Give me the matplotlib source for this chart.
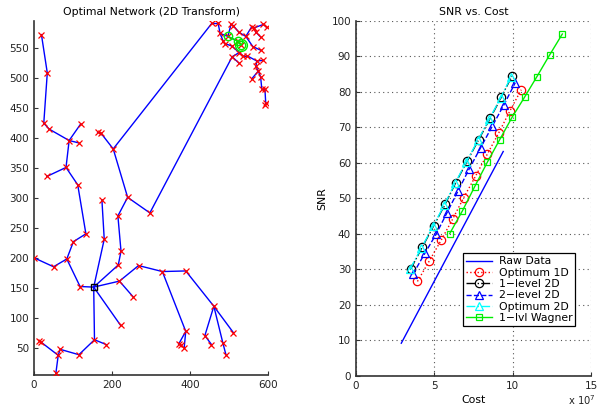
import numpy as np
import matplotlib
matplotlib.use('Agg')
import matplotlib.pyplot as plt

plt.rcParams.update({
    'font.family': 'DejaVu Sans', 'font.size': 7.5,
    'xtick.direction': 'in', 'ytick.direction': 'in',
})

# ── left panel: network nodes (x, y) and edges ───────────────────────────────
node_x = [153, 118, 84, 50, 0, 101, 133, 112, 82, 33, 90, 120, 115, 39, 25, 34, 19,
          180, 174, 216, 223, 215, 240, 297, 203, 163, 172, 219, 255, 268, 329, 389,
          389, 371, 377, 385, 461, 438, 455, 484, 492, 511, 222, 155, 185, 115, 67,
          62, 56, 14, 18,
          456, 472, 477, 485, 489, 497, 505, 511, 525, 543, 522, 531, 558, 563, 588,
          597, 569, 581, 561, 581, 507, 526, 535, 545, 571, 508, 526, 588, 569, 575,
          558, 581, 584, 592, 594, 592]
node_y = [151, 152, 198, 185, 200, 227, 240, 322, 351, 336, 396, 424, 392, 415, 425, 509, 573,
          231, 297, 188, 211, 270, 301, 275, 382, 410, 408, 161, 134, 187, 177, 178,
          77, 56, 54, 50, 119, 70, 55, 58, 38, 75, 87, 63, 55, 38, 47,
          37, 7, 61, 59,
          592, 592, 575, 562, 558, 570, 590, 588, 577, 570, 562, 556, 586, 584, 590,
          585, 577, 569, 553, 547, 554, 543, 538, 538, 529, 536, 525, 530, 520, 512,
          499, 502, 482, 482, 459, 455]
edges = [(0, 1), (1, 2), (2, 3), (3, 4), (2, 5), (5, 6), (6, 7), (7, 8), (8, 9), (8, 10),
         (10, 11), (10, 12), (10, 13), (13, 14), (14, 15), (15, 16),
         (0, 17), (17, 18), (0, 19), (19, 20), (20, 21), (21, 22), (22, 24), (24, 26),
         (26, 25), (22, 23), (23, 76), (24, 51),
         (0, 27), (27, 28), (27, 29), (29, 30), (30, 31), (30, 32), (32, 33), (32, 35),
         (33, 34), (31, 36), (36, 37), (37, 38), (36, 39), (39, 40), (36, 41),
         (0, 42), (0, 43), (43, 44), (43, 45), (45, 46), (46, 47), (47, 48), (47, 50),
         (50, 49),
         (51, 52), (52, 53), (53, 54), (54, 55), (53, 56), (56, 57), (57, 58), (58, 59),
         (59, 60), (56, 61), (61, 62), (60, 63), (63, 64), (64, 65), (65, 66), (64, 67),
         (67, 68), (60, 69), (69, 70), (55, 71), (71, 72), (72, 73), (73, 74), (74, 75),
         (76, 72), (76, 77), (75, 78), (75, 79), (79, 80), (80, 81), (80, 82), (82, 83),
         (83, 84), (84, 85), (85, 86)]
root = 0
green_nodes = [56, 61, 62]

# ── right panel: SNR vs cost (cost in units of 1e7) ──────────────────────────
raw_cost = [2.9, 9.4]
raw_snr = [9.2, 63.2]
opt1d_cost = [3.93, 4.69, 5.44, 6.18, 6.88, 7.64, 8.39, 9.11, 9.81, 10.55]
opt1d_snr = [26.6, 32.4, 38.2, 44.2, 50.2, 56.3, 62.5, 68.4, 74.5, 80.6]
lvl1_cost = [3.50, 4.23, 4.97, 5.69, 6.37, 7.09, 7.83, 8.56, 9.28, 9.96]
lvl1_snr = [30.1, 36.2, 42.3, 48.3, 54.4, 60.4, 66.5, 72.5, 78.5, 84.5]
lvl2_cost = [3.65, 4.40, 5.12, 5.82, 6.52, 7.22, 7.96, 8.71, 9.45, 10.17]
lvl2_snr = [28.7, 34.5, 39.9, 46.0, 52.1, 58.2, 64.3, 70.4, 76.4, 82.6]
opt2d_cost = [3.45, 4.18, 4.92, 5.64, 6.32, 7.04, 7.78, 8.51, 9.23, 9.91]
opt2d_snr = [30.0, 36.0, 42.1, 48.1, 54.2, 60.2, 66.3, 72.3, 78.3, 84.3]
wag_cost = [5.99, 6.80, 7.58, 8.39, 9.17, 9.96, 10.76, 11.55, 12.36, 13.17]
wag_snr = [40.1, 46.5, 53.3, 60.2, 66.5, 72.8, 78.5, 84.3, 90.4, 96.3]

fig = plt.figure(figsize=(5.97, 4.09), dpi=100, facecolor='white')
ax_n = fig.add_axes([0.057, 0.083, 0.392, 0.866])
ax_s = fig.add_axes([0.596, 0.081, 0.394, 0.868])

AX_CLR = '#333333'

# ── network ──────────────────────────────────────────────────────────────────
nx_ = np.array(node_x)
ny_ = np.array(node_y)
for a, b in edges:
    ax_n.plot([nx_[a], nx_[b]], [ny_[a], ny_[b]], color='#0000ff', lw=1.0, zorder=2)
others = [i for i in range(len(node_x)) if i != root]
ax_n.plot(nx_[others], ny_[others], 'x', color='red', ms=4, mew=0.9, zorder=3)
ax_n.plot(nx_[green_nodes], ny_[green_nodes], '-o', color='#00ee00', ms=6,
          mfc='none', mew=1.0, lw=1.0, zorder=4)
ax_n.plot(nx_[green_nodes[-1]], ny_[green_nodes[-1]], 'o', color='#00ee00', ms=8.5,
          mfc='none', mew=1.0, zorder=4)
ax_n.plot(nx_[root], ny_[root], 's', color='black', ms=4.5, mfc='none', mew=1.0, zorder=5)

ax_n.set_xlim(0, 600)
ax_n.set_ylim(4, 596)
ax_n.set_xticks([0, 200, 400, 600])
ax_n.set_yticks(np.arange(50, 600, 50))
ax_n.set_title('Optimal Network (2D Transform)', fontsize=7.8, pad=4)
for sp in ('top', 'right'):
    ax_n.spines[sp].set_visible(False)
for sp in ('left', 'bottom'):
    ax_n.spines[sp].set_color(AX_CLR)
    ax_n.spines[sp].set_linewidth(1.2)
ax_n.tick_params(colors=AX_CLR, labelcolor='#222222', length=3)

# ── SNR vs cost ──────────────────────────────────────────────────────────────
ax_s.plot(raw_cost, raw_snr, '-', color='#0000ff', lw=1.0, label='Raw Data')
ax_s.plot(opt1d_cost, opt1d_snr, ':o', color='red', ms=6, mfc='none', mew=0.9,
          lw=1.0, label='Optimum 1D')
ax_s.plot(lvl1_cost, lvl1_snr, '-.o', color='black', ms=6, mfc='none', mew=0.9,
          lw=1.0, label='1\u2212level 2D')
ax_s.plot(lvl2_cost, lvl2_snr, '--^', color='#0000ff', ms=6, mfc='none', mew=0.9,
          lw=1.0, label='2\u2212level 2D')
ax_s.plot(opt2d_cost, opt2d_snr, '-.^', color='cyan', ms=6, mfc='none', mew=0.9,
          lw=1.0, label='Optimum 2D')
ax_s.plot(wag_cost, wag_snr, '-s', color='#00ee00', ms=5, mfc='none', mew=0.9,
          lw=1.0, label='1\u2212lvl Wagner')

ax_s.set_xlim(0, 15)
ax_s.set_ylim(0, 100)
ax_s.set_xticks([0, 5, 10, 15])
ax_s.set_yticks(np.arange(0, 101, 10))
ax_s.grid(True, ls=(0, (1, 3)), color='#555555', lw=0.8)
ax_s.set_title('SNR vs. Cost', fontsize=7.8, pad=4)
ax_s.set_xlabel('Cost', fontsize=7.8, labelpad=3)
ax_s.set_ylabel('SNR', fontsize=7.8, labelpad=3)
for sp in ('top', 'right'):
    ax_s.spines[sp].set_visible(False)
for sp in ('left', 'bottom'):
    ax_s.spines[sp].set_color(AX_CLR)
    ax_s.spines[sp].set_linewidth(1.2)
ax_s.tick_params(colors=AX_CLR, labelcolor='#222222', length=3)
fig.text(0.998, 0.004, 'x 10$^7$', ha='right', va='bottom', fontsize=7.2, color='#222222')

leg = ax_s.legend(loc='lower left', bbox_to_anchor=(0.455, 0.14), fontsize=7.8,
                  frameon=True, fancybox=False, edgecolor='black', framealpha=1,
                  handlelength=2.4, labelspacing=0.12, borderpad=0.3,
                  handletextpad=0.6, borderaxespad=0)
leg.get_frame().set_linewidth(0.9)

fig.savefig('out.png', dpi=100, facecolor='white')
